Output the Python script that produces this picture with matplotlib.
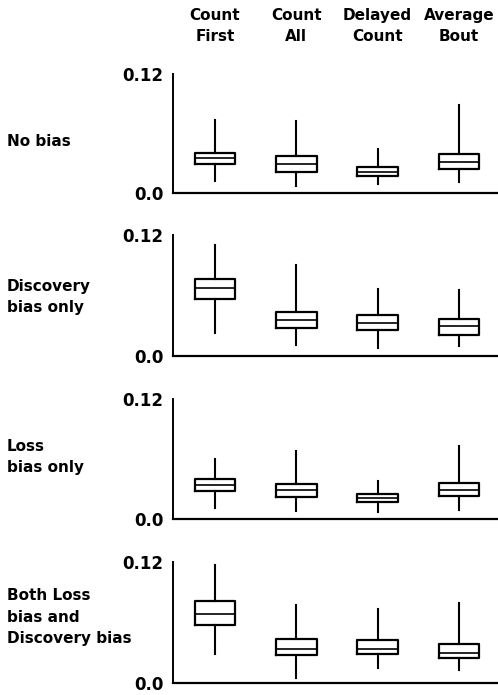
import matplotlib.pyplot as plt
from matplotlib.transforms import blended_transform_factory

methods = ['Count\nFirst', 'Count\nAll', 'Delayed\nCount', 'Average\nBout']
rows = ['No bias', 'Discovery\nbias only', 'Loss\nbias only',
        'Both Loss\nbias and\nDiscovery bias']

# box stats per panel: whisker low, q1, median, q3, whisker high (one entry per method)
no_bias = [[0.012, 0.029, 0.035, 0.040, 0.074],
           [0.0074, 0.021, 0.029, 0.037, 0.073],
           [0.0088, 0.0175, 0.0215, 0.026, 0.044],
           [0.0108, 0.024, 0.0316, 0.039, 0.089]]
discovery_only = [[0.0227, 0.057, 0.0673, 0.0767, 0.110],
                  [0.011, 0.0277, 0.0353, 0.0433, 0.090],
                  [0.0083, 0.026, 0.0323, 0.0407, 0.066],
                  [0.0097, 0.021, 0.0293, 0.0367, 0.065]]
loss_only = [[0.011, 0.0282, 0.0339, 0.0396, 0.0605],
             [0.0084, 0.022, 0.029, 0.0353, 0.068],
             [0.0067, 0.0171, 0.021, 0.0255, 0.0383],
             [0.0087, 0.0228, 0.029, 0.0359, 0.073]]
both = [[0.0285, 0.058, 0.0688, 0.0817, 0.1167],
        [0.005, 0.0275, 0.034, 0.0433, 0.077],
        [0.0153, 0.0285, 0.0337, 0.0423, 0.073],
        [0.0126, 0.0245, 0.030, 0.0384, 0.0797]]
panels = [no_bias, discovery_only, loss_only, both]

plt.rcParams['font.family'] = ['DejaVu Sans Condensed', 'Liberation Sans Narrow',
                               'DejaVu Sans']
plt.rcParams['font.weight'] = 'bold'

fig = plt.figure(figsize=(4.98, 6.95), dpi=100)
W, H = 498, 695
# pixel rows for 0.12 and 0.0 on each panel
ytops = [74, 235, 399, 562]
ybots = [193, 356, 519, 683]
label_y = [142, 297, 457, 617]
left, right = 173, 498

for i, data in enumerate(panels):
    ax = fig.add_axes([left / W, 1 - ybots[i] / H, (right - left) / W,
                       (ybots[i] - ytops[i]) / H])
    stats = [dict(whislo=d[0], q1=d[1], med=d[2], q3=d[3], whishi=d[4])
             for d in data]
    ax.bxp(stats, positions=[1, 2, 3, 4], widths=0.5, showcaps=False,
           showfliers=False,
           boxprops=dict(color='black', linewidth=1.6),
           whiskerprops=dict(color='black', linewidth=1.5),
           medianprops=dict(color='black', linewidth=1.2))
    ax.set_xlim(0.483, 4.48)
    ax.set_ylim(0, 0.12)
    ax.set_yticks([0, 0.12])
    ax.set_yticklabels(['0.0', '0.12'], fontsize=12, fontweight='bold')
    ax.set_xticks([])
    ax.tick_params(axis='y', length=0, pad=7)
    for s in ['top', 'right']:
        ax.spines[s].set_visible(False)
    ax.spines['left'].set_linewidth(1.4)
    ax.spines['bottom'].set_linewidth(1.6)
    ax.patch.set_visible(False)
    fig.text(7 / W, 1 - label_y[i] / H, rows[i], ha='left', va='center',
             fontsize=11, fontweight='bold', linespacing=1.55)
    if i == 0:
        trans = blended_transform_factory(ax.transData, fig.transFigure)
        for j, m in enumerate(methods):
            ax.text(j + 1, 1 - 26 / H, m, transform=trans,
                    ha='center', va='center', fontsize=11, fontweight='bold',
                    linespacing=1.55)

fig.savefig('out.png', dpi=100)
